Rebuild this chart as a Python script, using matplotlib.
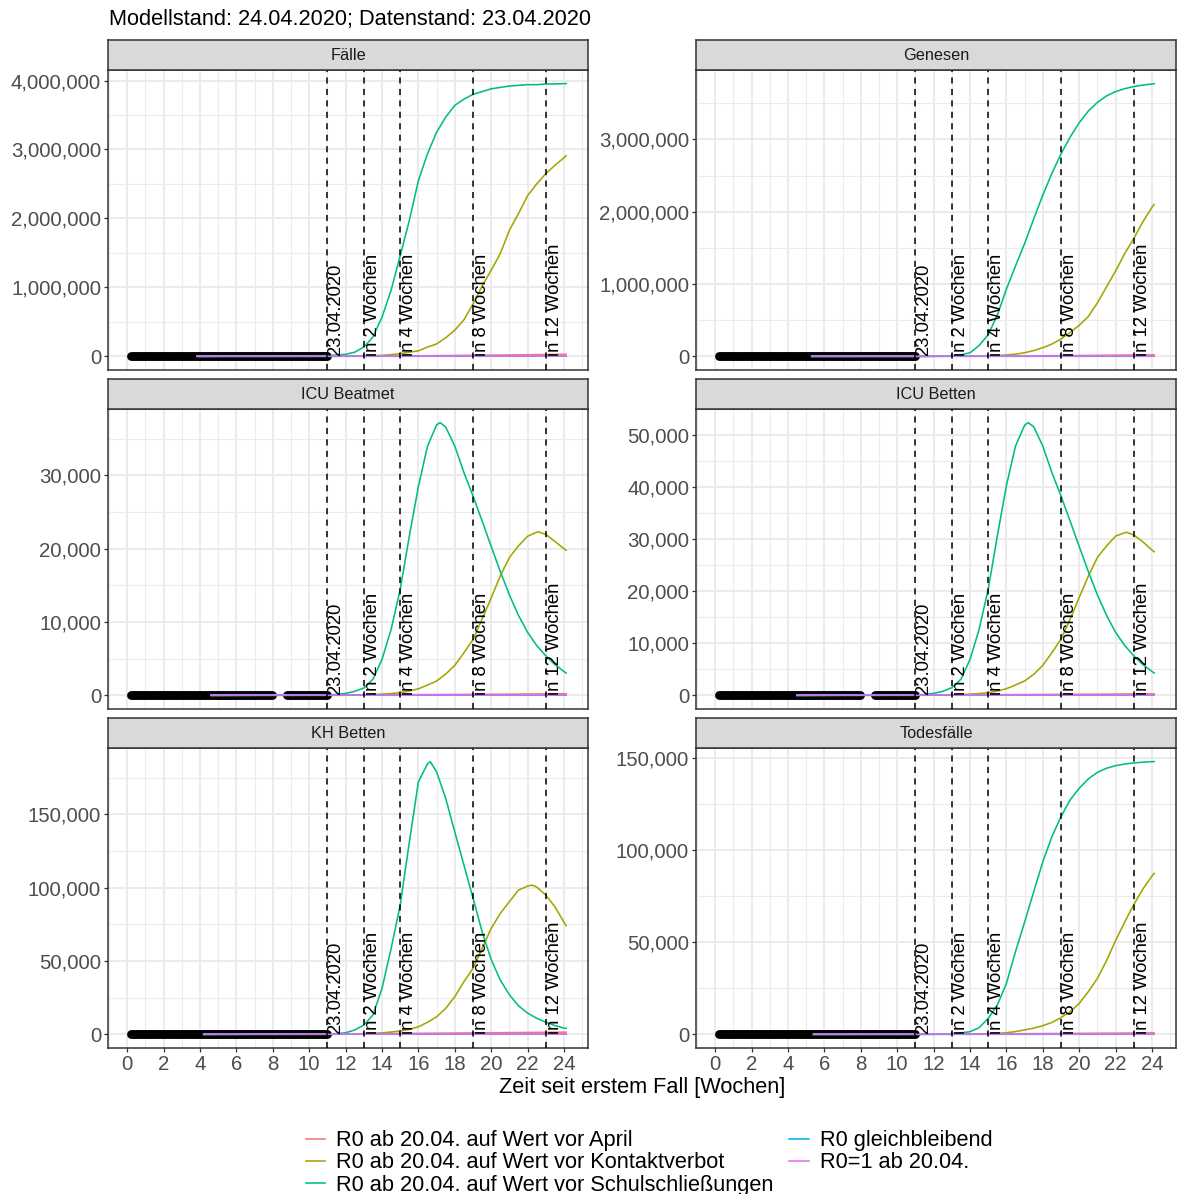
import matplotlib.pyplot as plt
from matplotlib.lines import Line2D
from matplotlib.ticker import FuncFormatter, MultipleLocator

plt.rcParams["font.family"] = ["Liberation Sans", "DejaVu Sans"]

# ---- data ----
panels = ["Fälle", "Genesen", "ICU Beatmet", "ICU Betten", "KH Betten", "Todesfälle"]
y_step = [1_000_000, 1_000_000, 10_000, 10_000, 50_000, 50_000]

weeks = [11, 11.5, 12, 12.5, 13, 13.5, 14, 14.5, 15, 15.5, 16, 16.5, 17, 17.5,
         18, 18.5, 19, 19.5, 20, 20.5, 21, 21.5, 22, 22.5, 23, 23.5, 24, 24.12]

# R0 ab 20.04. auf Wert vor Schulschließungen
schule = {
    "Fälle": [10e3, 20e3, 30e3, 60e3, 135e3, 280e3, 570e3, 960e3, 1460e3, 1970e3,
              2550e3, 2940e3, 3250e3, 3470e3, 3640e3, 3730e3, 3800e3, 3840e3, 3880e3,
              3900e3, 3920e3, 3930e3, 3940e3, 3940e3, 3950e3, 3950e3, 3955e3, 3955e3],
    "Genesen": [0, 0, 2e3, 5e3, 10e3, 20e3, 50e3, 150e3, 300e3, 570e3, 930e3, 1250e3,
                1560e3, 1900e3, 2230e3, 2530e3, 2800e3, 3030e3, 3230e3, 3390e3, 3510e3,
                3600e3, 3660e3, 3700e3, 3730e3, 3750e3, 3765e3, 3770e3],
    "ICU Beatmet": [50, 120, 270, 550, 1000, 2200, 4900, 9000, 14450, 21700, 28500,
                    34000, 36900, 36600, 34000, 30400, 27200, 23800, 20300, 16900,
                    13700, 10900, 8600, 6800, 5400, 4200, 3250, 3050],
    "ICU Betten": [70, 170, 380, 770, 1470, 3100, 6900, 12700, 20400, 30600, 40300,
                   47900, 51900, 51600, 47900, 42800, 38300, 33500, 28600, 23800,
                   19300, 15400, 12100, 9600, 7600, 5900, 4600, 4300],
    "KH Betten": [200, 500, 1100, 3000, 6400, 13200, 31400, 58600, 88200, 131000,
                  172300, 184500, 179000, 161000, 138000, 115500, 93000, 70000,
                  51000, 37000, 27000, 19500, 14500, 11000, 8300, 6000, 4300, 4100],
    "Todesfälle": [0, 30, 70, 150, 360, 800, 1450, 3600, 8700, 15900, 27700, 45000,
                   61000, 77500, 93800, 107400, 118300, 127400, 133700, 138800,
                   142400, 144600, 146000, 146900, 147500, 147900, 148200, 148200],
}

# R0 ab 20.04. auf Wert vor Kontaktverbot
kontakt = {
    "Fälle": [0, 0, 3e3, 5e3, 8e3, 10e3, 15e3, 25e3, 40e3, 60e3, 80e3, 135e3, 180e3,
              270e3, 380e3, 530e3, 760e3, 1020e3, 1250e3, 1490e3, 1830e3, 2070e3,
              2330e3, 2500e3, 2650e3, 2770e3, 2880e3, 2910e3],
    "Genesen": [0, 0, 0, 1e3, 2e3, 3e3, 4e3, 5e3, 5e3, 10e3, 20e3, 30e3, 50e3, 80e3,
                120e3, 170e3, 240e3, 330e3, 430e3, 550e3, 740e3, 960e3, 1180e3,
                1420e3, 1630e3, 1860e3, 2060e3, 2100e3],
    "ICU Beatmet": [0, 10, 20, 40, 70, 110, 170, 250, 360, 600, 900, 1400, 1950, 2900,
                    4100, 5800, 7600, 10400, 13300, 16300, 18800, 20400, 21700, 22250,
                    21950, 21000, 20000, 19800],
    "ICU Betten": [0, 15, 30, 55, 100, 155, 240, 350, 500, 830, 1280, 2000, 2760, 4040,
                   5770, 8200, 10800, 14600, 18800, 22900, 26500, 28700, 30600, 31250,
                   30800, 29500, 27900, 27600],
    "KH Betten": [0, 50, 100, 200, 350, 600, 1000, 1600, 2300, 3400, 5200, 8200, 12000,
                  17700, 25700, 35900, 45000, 58600, 72300, 82500, 90500, 98400,
                  101100, 100500, 95000, 87000, 76500, 74100],
    "Todesfälle": [0, 10, 20, 40, 60, 100, 150, 220, 300, 550, 900, 1500, 2400, 3400,
                   4700, 6500, 9100, 12300, 16800, 23200, 30400, 40000, 51000, 61000,
                   70500, 79000, 86000, 87500],
}

# peaks that fall between the half-week readings (week, value)
schule_peak = {"ICU Beatmet": (17.2, 37200), "ICU Betten": (17.2, 52400),
               "KH Betten": (16.65, 186000)}
kontakt_peak = {"ICU Beatmet": (22.6, 22300), "ICU Betten": (22.6, 31350),
                "KH Betten": (22.25, 101800)}

# the three scenarios that stay near zero
flat_weeks = [11, 16, 20, 24.12]
april = {
    "Fälle": [2e3, 8e3, 18e3, 30e3],
    "Genesen": [1e3, 5e3, 12e3, 22e3],
    "ICU Beatmet": [50, 100, 150, 220],
    "ICU Betten": [70, 140, 210, 300],
    "KH Betten": [300, 700, 1100, 1500],
    "Todesfälle": [100, 300, 550, 800],
}
gleich = {
    "Fälle": [1e3, 1.5e3, 2e3, 2.5e3],
    "Genesen": [500, 800, 1e3, 1.2e3],
    "ICU Beatmet": [20, 20, 20, 20],
    "ICU Betten": [30, 30, 30, 30],
    "KH Betten": [100, 100, 100, 100],
    "Todesfälle": [30, 40, 50, 60],
}
r0_eins = {
    "Fälle": [0, 0, 0, 0],
    "Genesen": [0, 0, 0, 0],
    "ICU Beatmet": [0, 0, 0, 0],
    "ICU Betten": [0, 0, 0, 0],
    "KH Betten": [0, 0, 0, 0],
    "Todesfälle": [0, 0, 0, 0],
}

# week in which the model curves start in each facet
model_start = {"Fälle": 3.85, "Genesen": 5.3, "ICU Beatmet": 4.6,
               "ICU Betten": 4.5, "KH Betten": 4.2, "Todesfälle": 5.4}

# observed data (black points): period and gaps
obs_periods = {
    "Fälle": [(0.19, 11.0)],
    "Genesen": [(0.19, 11.0)],
    "ICU Beatmet": [(0.19, 7.97), (8.8, 11.0)],
    "ICU Betten": [(0.19, 7.97), (8.8, 11.0)],
    "KH Betten": [(0.19, 11.0)],
    "Todesfälle": [(0.19, 11.0)],
}

event_weeks = [11, 13, 15, 19, 23]
event_labels = ["23.04.2020", "in 2 Wochen", "in 4 Wochen", "in 8 Wochen", "in 12 Wochen"]

series_labels = [
    "R0 ab 20.04. auf Wert vor April",
    "R0 ab 20.04. auf Wert vor Kontaktverbot",
    "R0 ab 20.04. auf Wert vor Schulschließungen",
    "R0 gleichbleibend",
    "R0=1 ab 20.04.",
]
series_colors = ["#F8766D", "#A3A500", "#00BF7D", "#00B0F6", "#E76BF3"]

# ---- layout (pixels) ----
W, H = 1177, 1194
col_x = [108, 696]
panel_w = 480
row_y = [70, 409, 748]
panel_h = 300
strip_h = 30


def frac(x0, y0, w, h):
    return [x0 / W, 1 - (y0 + h) / H, w / W, h / H]


def with_peak(xs, ys, peak):
    pts = list(zip(xs, ys))
    if peak is not None:
        pts.append(peak)
    pts.sort()
    return [p[0] for p in pts], [p[1] for p in pts]


fig = plt.figure(figsize=(W / 100, H / 100), dpi=100)

x_lo, x_hi = -1.06, 25.32
fmt = FuncFormatter(lambda v, p: f"{v:,.0f}")

for i, name in enumerate(panels):
    r, c = divmod(i, 2)
    ax = fig.add_axes(frac(col_x[c], row_y[r], panel_w, panel_h))

    # observed points
    for a, b in obs_periods[name]:
        ax.plot([a, b], [0, 0], color="black", lw=6.4, solid_capstyle="round", zorder=2)

    # model scenarios
    t0 = model_start[name]
    kx, ky = with_peak([t0] + weeks, [0] + kontakt[name], kontakt_peak.get(name))
    sx, sy = with_peak([t0] + weeks, [0] + schule[name], schule_peak.get(name))
    ax.plot([t0] + flat_weeks, [0] + april[name], color=series_colors[0], lw=1.15, zorder=3)
    ax.plot(kx, ky, color=series_colors[1], lw=1.15, zorder=3)
    ax.plot(sx, sy, color=series_colors[2], lw=1.15, zorder=3)
    ax.plot([t0] + flat_weeks, [0] + gleich[name], color=series_colors[3], lw=1.15, zorder=3)
    ax.plot([t0] + flat_weeks, [0] + r0_eins[name], color=series_colors[4], lw=1.15, zorder=3)

    for wk, lab in zip(event_weeks, event_labels):
        ax.axvline(wk, color="black", lw=1.1, linestyle=(0, (4, 3.5)), zorder=4)
        ax.text(wk, 0, lab, rotation=90, ha="left", va="bottom",
                fontsize=13.3, color="black", zorder=5)

    ymax = max(sy)
    ax.set_xlim(x_lo, x_hi)
    ax.set_ylim(-0.05 * ymax, 1.05 * ymax)

    ax.xaxis.set_major_locator(MultipleLocator(2))
    ax.xaxis.set_minor_locator(MultipleLocator(1))
    ax.yaxis.set_major_locator(MultipleLocator(y_step[i]))
    ax.yaxis.set_minor_locator(MultipleLocator(y_step[i] / 2))
    ax.yaxis.set_major_formatter(fmt)

    ax.grid(which="major", color="#EBEBEB", lw=1.4, zorder=0)
    ax.grid(which="minor", color="#EBEBEB", lw=0.75, zorder=0)
    ax.set_axisbelow(True)
    for s in ax.spines.values():
        s.set_color("#333333")
        s.set_linewidth(1.1)

    ax.tick_params(which="minor", length=0)
    ax.tick_params(which="major", length=3, width=0.9, color="#333333",
                   labelcolor="#4D4D4D", labelsize=14.7, pad=2)
    if r < 2:
        ax.tick_params(axis="x", which="both", bottom=False, labelbottom=False)

    # facet strip
    sax = fig.add_axes(frac(col_x[c], row_y[r] - strip_h, panel_w, strip_h))
    sax.set_facecolor("#D9D9D9")
    sax.set_xticks([])
    sax.set_yticks([])
    for s in sax.spines.values():
        s.set_color("#333333")
        s.set_linewidth(1.1)
    sax.text(0.5, 0.5, name, ha="center", va="center", fontsize=11.7,
             color="#1A1A1A", transform=sax.transAxes)

fig.text(109 / W, 1 - 19 / H, "Modellstand: 24.04.2020; Datenstand: 23.04.2020",
         fontsize=15.7, ha="left", va="center")
fig.text(642 / W, 1 - 1088 / H, "Zeit seit erstem Fall [Wochen]",
         fontsize=15.7, ha="center", va="center")

handles = [Line2D([], [], color=col, lw=1.15) for col in series_colors]
fig.legend(handles, series_labels, ncol=2, loc="center",
           bbox_to_anchor=(649 / W, 1 - 1163 / H), frameon=False, fontsize=15.7,
           handlelength=0.9, handletextpad=0.5, columnspacing=0.7, labelspacing=0.05)

fig.savefig("out.png", dpi=100)
